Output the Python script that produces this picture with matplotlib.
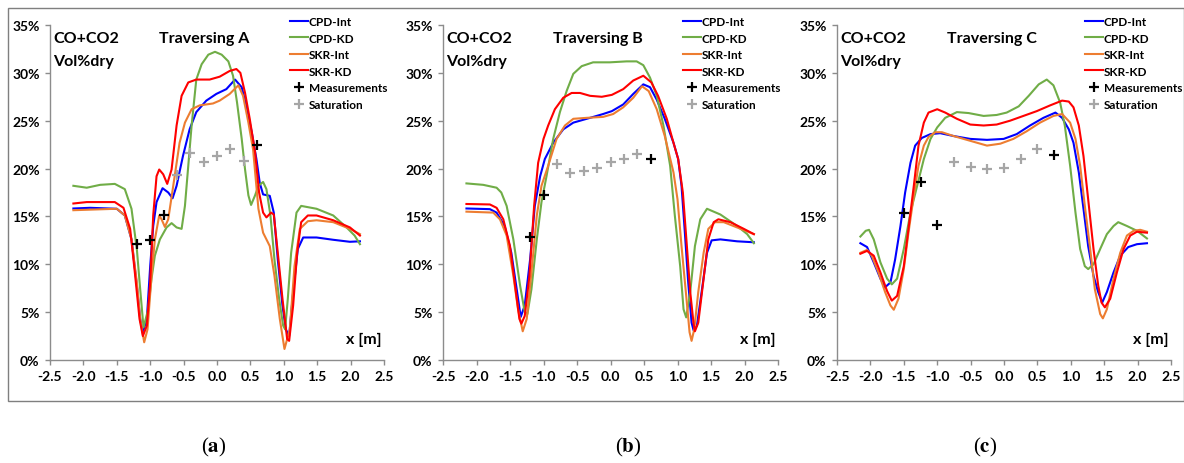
"""Traversing A/B/C profiles of CO+CO2 (vol% dry): model variants vs. measurements."""

import matplotlib

matplotlib.use("Agg")
import matplotlib.pyplot as plt
from matplotlib.patches import Rectangle
from matplotlib.ticker import FuncFormatter, MultipleLocator

plt.rcParams["font.family"] = ["Lato", "DejaVu Sans"]
plt.rcParams["font.weight"] = "bold"
plt.rcParams["mathtext.fontset"] = "stix"

# ---------------- data ----------------
# panel A
a_cpd_int_x = [-2.15, -1.9, -1.5, -1.38, -1.28, -1.2, -1.15, -1.11, -1.05, -1.0, -0.955, -0.905, -0.815, -0.73,
               -0.665, -0.605, -0.51, -0.41, -0.31, -0.16, -0.01, 0.14, 0.27, 0.37, 0.44, 0.52, 0.59, 0.64, 0.69,
               0.79, 0.85, 0.91, 0.98, 1.03, 1.08, 1.14, 1.21, 1.29, 1.49, 1.74, 1.99, 2.14]
a_cpd_int_y = [15.83, 15.9, 15.8, 15.1, 12.6, 7.8, 4.3, 2.9, 4.3, 9.8, 14.0, 16.5, 17.95, 17.5,
               16.9, 18.2, 21.3, 24.1, 25.9, 27.1, 27.8, 28.3, 29.3, 28.5, 26.5, 23.8, 21.0, 18.5, 17.3,
               17.15, 15.4, 10.5, 5.7, 3.2, 2.5, 7.1, 11.6, 12.8, 12.8, 12.56, 12.35, 12.4]
a_cpd_kd_x = [-2.15, -1.95, -1.75, -1.53, -1.38, -1.28, -1.2, -1.15, -1.1, -1.03, -0.98, -0.93, -0.855, -0.755,
              -0.68, -0.605, -0.53, -0.48, -0.43, -0.38, -0.31, -0.23, -0.13, -0.03, 0.07, 0.17, 0.24, 0.30,
              0.37, 0.42, 0.47, 0.51, 0.57, 0.62, 0.69, 0.74, 0.80, 0.86, 0.93, 0.99, 1.02, 1.06, 1.11, 1.19,
              1.26, 1.49, 1.74, 1.94, 2.06, 2.14]
a_cpd_kd_y = [18.2, 18.0, 18.3, 18.4, 17.85, 15.8, 11.6, 7.4, 3.4, 5.3, 8.5, 10.9, 12.6, 13.85,
              14.3, 13.85, 13.7, 16.1, 20.3, 24.5, 29.3, 30.9, 31.9, 32.2, 31.9, 31.2, 29.7, 26.9,
              23.1, 19.9, 17.2, 16.2, 17.2, 18.2, 18.6, 17.85, 15.1, 10.5, 6.4, 3.6, 3.2, 6.4, 11.2, 15.4,
              16.1, 15.8, 15.1, 13.85, 13.0, 12.1]
a_skr_int_x = [-2.15, -1.5, -1.38, -1.28, -1.2, -1.15, -1.09, -1.04, -0.98, -0.93, -0.865, -0.83, -0.78, -0.73,
               -0.655, -0.56, -0.48, -0.38, -0.26, -0.06, 0.04, 0.19, 0.32, 0.39, 0.47, 0.54, 0.62, 0.69, 0.79,
               0.86, 0.94, 1.01, 1.09, 1.16, 1.24, 1.36, 1.49, 1.74, 1.99, 2.14]
a_skr_int_y = [15.65, 15.8, 15.1, 12.6, 8.1, 4.3, 1.85, 3.2, 8.8, 12.6, 15.1, 14.7, 13.9, 14.7,
               18.2, 22.7, 24.8, 26.2, 26.6, 26.8, 27.1, 27.8, 28.7, 27.6, 24.8, 22.0, 15.8, 13.3, 11.9,
               8.8, 4.3, 1.15, 3.2, 9.8, 13.7, 14.5, 14.6, 14.4, 13.7, 13.15]
a_skr_kd_x = [-2.15, -1.95, -1.53, -1.4, -1.3, -1.23, -1.16, -1.11, -1.05, -1.0, -0.955, -0.905, -0.865, -0.805,
              -0.745, -0.68, -0.605, -0.53, -0.43, -0.31, -0.11, 0.04, 0.19, 0.29, 0.35, 0.42, 0.49, 0.57, 0.63,
              0.69, 0.74, 0.81, 0.85, 0.91, 0.98, 1.05, 1.08, 1.14, 1.20, 1.26, 1.36, 1.49, 1.74, 1.99, 2.14]
a_skr_kd_y = [16.35, 16.5, 16.5, 15.9, 13.7, 9.15, 4.3, 2.5, 3.6, 8.1, 15.1, 19.2, 19.9, 19.4,
              18.4, 19.9, 24.5, 27.6, 29.0, 29.3, 29.3, 29.6, 30.2, 30.4, 30.0, 27.9, 25.2, 21.7, 17.5,
              15.4, 14.9, 15.4, 15.2, 11.2, 6.4, 2.2, 2.0, 5.7, 11.2, 14.4, 15.1, 15.1, 14.6, 13.85, 13.0]
a_meas_x = [-1.2, -1.0, -0.8, 0.6]
a_meas_y = [12.1, 12.5, 15.2, 22.5]
a_sat_x = [-0.6, -0.4, -0.2, 0.0, 0.2, 0.4]
a_sat_y = [19.35, 21.6, 20.7, 21.3, 22.0, 20.8]

# panel B
b_cpd_int_x = [-2.15, -1.8, -1.7, -1.58, -1.48, -1.4, -1.34, -1.28, -1.2, -1.13, -1.05, -0.98, -0.855, -0.705,
               -0.555, -0.305, -0.11, 0.02, 0.19, 0.34, 0.49, 0.59, 0.69, 0.81, 0.94, 1.01, 1.06, 1.11, 1.16,
               1.21, 1.24, 1.29, 1.36, 1.44, 1.51, 1.64, 1.89, 2.14]
b_cpd_int_y = [15.83, 15.76, 15.4, 14.0, 11.2, 7.4, 4.5, 5.7, 10.5, 16.1, 19.2, 21.0, 22.7, 24.1,
               24.8, 25.3, 25.7, 26.0, 26.7, 27.8, 28.8, 28.5, 27.2, 25.2, 22.7, 21.0, 18.2, 13.3, 8.1,
               3.9, 3.1, 3.6, 7.1, 11.2, 12.5, 12.6, 12.4, 12.3]
b_cpd_kd_x = [-2.15, -1.9, -1.7, -1.63, -1.55, -1.45, -1.35, -1.28, -1.24, -1.18, -1.1, -1.03, -0.955, -0.855,
              -0.755, -0.655, -0.555, -0.43, -0.26, -0.01, 0.24, 0.39, 0.49, 0.59, 0.69, 0.79, 0.89, 0.96,
              1.04, 1.09, 1.13, 1.19, 1.26, 1.34, 1.44, 1.64, 1.89, 2.04, 2.14]
b_cpd_kd_y = [18.45, 18.3, 18.0, 17.5, 16.1, 12.6, 7.8, 5.0, 4.8, 7.4, 12.6, 16.5, 19.2, 23.1,
              25.9, 28.1, 29.9, 30.7, 31.1, 31.1, 31.2, 31.2, 30.8, 29.5, 27.6, 24.5, 20.3, 15.1,
              9.8, 5.3, 4.45, 7.1, 11.9, 14.7, 15.8, 15.2, 14.0, 13.15, 12.2]
b_skr_int_x = [-2.15, -1.75, -1.65, -1.55, -1.45, -1.38, -1.31, -1.25, -1.18, -1.1, -1.03, -0.93, -0.805, -0.68,
               -0.555, -0.355, -0.11, 0.04, 0.19, 0.34, 0.47, 0.57, 0.69, 0.81, 0.94, 1.0, 1.06, 1.13, 1.18,
               1.21, 1.25, 1.31, 1.39, 1.46, 1.56, 1.69, 1.89, 2.14]
b_skr_int_y = [15.5, 15.4, 14.7, 13.0, 8.8, 5.3, 3.0, 4.3, 9.15, 15.1, 18.2, 20.3, 23.1, 24.5,
               25.2, 25.3, 25.4, 25.7, 26.4, 27.4, 28.6, 28.1, 26.2, 23.4, 19.6, 16.8, 11.9, 6.7, 2.9,
               2.0, 3.2, 7.1, 11.2, 13.7, 14.4, 14.4, 13.85, 13.15]
b_skr_kd_x = [-2.15, -1.8, -1.7, -1.6, -1.5, -1.43, -1.36, -1.33, -1.28, -1.21, -1.14, -1.08, -1.0, -0.93,
              -0.83, -0.705, -0.58, -0.455, -0.305, -0.13, 0.02, 0.19, 0.34, 0.49, 0.61, 0.71, 0.84, 0.94,
              1.01, 1.08, 1.14, 1.19, 1.24, 1.26, 1.31, 1.39, 1.46, 1.54, 1.61, 1.79, 1.99, 2.14]
b_skr_kd_y = [16.3, 16.25, 15.9, 14.7, 11.9, 8.1, 4.3, 3.8, 4.6, 8.8, 16.1, 20.6, 23.1, 24.5,
              26.2, 27.4, 27.9, 27.9, 27.6, 27.5, 27.7, 28.3, 29.2, 29.7, 29.0, 27.6, 25.2, 22.7,
              21.0, 17.5, 11.9, 7.1, 3.8, 3.0, 3.9, 8.5, 12.6, 14.4, 14.7, 14.4, 13.7, 13.15]
b_meas_x = [-1.2, -1.0, 0.6]
b_meas_y = [12.9, 17.2, 21.05]
b_sat_x = [-0.8, -0.6, -0.4, -0.2, 0.0, 0.2, 0.4]
b_sat_y = [20.5, 19.5, 19.7, 20.1, 20.7, 21.0, 21.5]

# panel C
c_cpd_int_x = [-2.15, -2.05, -1.95, -1.85, -1.78, -1.70, -1.63, -1.55, -1.48, -1.40, -1.33, -1.23, -1.10, -0.955,
               -0.755, -0.505, -0.255, -0.005, 0.19, 0.39, 0.59, 0.77, 0.87, 0.97, 1.04, 1.12, 1.19, 1.26,
               1.34, 1.41, 1.47, 1.54, 1.64, 1.74, 1.86, 1.99, 2.14]
c_cpd_int_y = [12.2, 11.8, 10.2, 8.5, 7.6, 8.1, 10.5, 14.0, 17.5, 20.6, 22.4, 23.2, 23.6, 23.7,
               23.4, 23.1, 23.0, 23.1, 23.6, 24.5, 25.3, 25.85, 25.3, 24.1, 22.7, 19.6, 15.8, 11.9,
               8.8, 7.1, 6.0, 7.1, 9.15, 10.9, 11.8, 12.1, 12.2]
c_cpd_kd_x = [-2.15, -2.07, -2.02, -1.95, -1.85, -1.75, -1.68, -1.6, -1.5, -1.40, -1.30, -1.20, -1.10, -1.0,
              -0.88, -0.705, -0.53, -0.305, -0.11, 0.04, 0.22, 0.37, 0.52, 0.64, 0.74, 0.84, 0.91, 0.99,
              1.07, 1.14, 1.21, 1.26, 1.34, 1.44, 1.54, 1.64, 1.71, 1.84, 1.99, 2.14]
c_cpd_kd_y = [12.9, 13.5, 13.6, 12.6, 10.2, 8.5, 7.9, 8.5, 11.6, 15.4, 18.2, 21.0, 23.1, 24.3,
              25.3, 25.9, 25.8, 25.5, 25.6, 25.85, 26.5, 27.6, 28.8, 29.3, 28.7, 26.9, 24.5, 20.3,
              15.4, 11.6, 9.8, 9.5, 10.0, 11.6, 13.15, 14.0, 14.4, 14.0, 13.5, 12.7]
c_skr_int_x = [-2.15, -2.05, -1.98, -1.88, -1.78, -1.70, -1.65, -1.58, -1.5, -1.43, -1.35, -1.28, -1.2, -1.13,
               -1.03, -0.93, -0.755, -0.505, -0.255, -0.055, 0.14, 0.34, 0.54, 0.74, 0.87, 0.99, 1.07, 1.14,
               1.21, 1.29, 1.36, 1.44, 1.48, 1.54, 1.64, 1.74, 1.84, 1.94, 2.04, 2.14]
c_skr_int_y = [11.2, 11.5, 10.9, 9.15, 7.1, 5.7, 5.25, 6.4, 9.5, 13.3, 17.2, 20.3, 22.4, 23.3,
               23.8, 23.8, 23.4, 22.9, 22.4, 22.6, 23.1, 23.9, 24.8, 25.5, 25.7, 24.8, 23.1, 20.3,
               16.1, 11.6, 7.4, 4.8, 4.35, 5.3, 8.5, 11.2, 13.0, 13.5, 13.6, 13.4]
c_skr_kd_x = [-2.15, -2.05, -1.95, -1.85, -1.75, -1.68, -1.6, -1.5, -1.43, -1.35, -1.28, -1.2, -1.13, -1.0,
              -0.88, -0.705, -0.505, -0.305, -0.11, 0.09, 0.29, 0.49, 0.69, 0.87, 0.97, 1.04, 1.12, 1.19,
              1.26, 1.34, 1.41, 1.46, 1.51, 1.59, 1.69, 1.79, 1.89, 1.99, 2.14]
c_skr_kd_y = [11.1, 11.4, 10.9, 9.15, 7.2, 6.2, 6.7, 9.8, 13.7, 18.2, 22.4, 24.8, 25.85, 26.2,
              25.85, 25.2, 24.6, 24.5, 24.6, 25.0, 25.5, 26.0, 26.6, 27.1, 27.0, 26.4, 24.5, 21.3,
              16.8, 11.6, 7.8, 6.0, 5.5, 6.4, 9.15, 11.6, 13.0, 13.4, 13.3]
c_meas_x = [-1.5, -1.25, -1.0, 0.75]
c_meas_y = [15.4, 18.55, 14.1, 21.4]
c_sat_x = [-0.75, -0.5, -0.25, 0.0, 0.25, 0.5]
c_sat_y = [20.7, 20.2, 20.0, 20.1, 21.0, 22.0]

panel_names = ["A", "B", "C"]
panel_letters = ["a", "b", "c"]
series_labels = ["CPD-Int", "CPD-KD", "SKR-Int", "SKR-KD"]
series_colors = ["#0000FF", "#70AD47", "#ED7D31", "#FF0000"]

panels = [
    dict(lines=[(a_cpd_int_x, a_cpd_int_y), (a_cpd_kd_x, a_cpd_kd_y),
                (a_skr_int_x, a_skr_int_y), (a_skr_kd_x, a_skr_kd_y)],
         meas=(a_meas_x, a_meas_y), sat=(a_sat_x, a_sat_y)),
    dict(lines=[(b_cpd_int_x, b_cpd_int_y), (b_cpd_kd_x, b_cpd_kd_y),
                (b_skr_int_x, b_skr_int_y), (b_skr_kd_x, b_skr_kd_y)],
         meas=(b_meas_x, b_meas_y), sat=(b_sat_x, b_sat_y)),
    dict(lines=[(c_cpd_int_x, c_cpd_int_y), (c_cpd_kd_x, c_cpd_kd_y),
                (c_skr_int_x, c_skr_int_y), (c_skr_kd_x, c_skr_kd_y)],
         meas=(c_meas_x, c_meas_y), sat=(c_sat_x, c_sat_y)),
]

# layout (figure pixels, 1184 x 464)
W, H = 1184, 464
axes_left_px = [50, 443, 837]
axes_width_px = [334, 335, 334]
axes_top_px, axes_bottom_px = 26, 361
legend_x_frac = [0.718, 0.716, 0.742]
caption_x_px = [214, 628, 985]

spine_gray = "#8C8C8C"

fig = plt.figure(figsize=(W / 100, H / 100), dpi=100)

# outer frame around the three charts
fig.patches.append(Rectangle((8 / W, 1 - 402 / H), (W - 8) / W, (402 - 9) / H,
                             transform=fig.transFigure, fill=False,
                             edgecolor="#7F7F7F", lw=1.0))

for i, p in enumerate(panels):
    ax = fig.add_axes([axes_left_px[i] / W, 1 - axes_bottom_px / H,
                       axes_width_px[i] / W, (axes_bottom_px - axes_top_px) / H])
    for (xs, ys), lab, col in zip(p["lines"], series_labels, series_colors):
        ax.plot(xs, ys, color=col, lw=1.5, label=lab, solid_joinstyle="round")
    mx, my = p["meas"]
    ax.plot(mx, my, ls="none", marker="+", ms=7, mew=1.6, color="black", label="Measurements")
    sx, sy = p["sat"]
    ax.plot(sx, sy, ls="none", marker="+", ms=7, mew=1.6, color="#A6A6A6", label="Saturation")

    ax.set_xlim(-2.5, 2.5)
    ax.set_ylim(0, 35)
    ax.xaxis.set_major_locator(MultipleLocator(0.5))
    ax.yaxis.set_major_locator(MultipleLocator(5))
    ax.xaxis.set_major_formatter(FuncFormatter(lambda v, _: f"{v:.1f}"))
    ax.yaxis.set_major_formatter(FuncFormatter(lambda v, _: f"{v:.0f}%"))
    for side in ("top", "right"):
        ax.spines[side].set_visible(False)
    for side in ("left", "bottom"):
        ax.spines[side].set_color(spine_gray)
        ax.spines[side].set_linewidth(1.0)
    ax.tick_params(length=3.5, width=1.0, color=spine_gray, labelsize=10, pad=4)
    ax.patch.set_alpha(0)

    ax.text(0.01, 0.962, "CO+CO2", transform=ax.transAxes, fontsize=11.5,
            va="center", ha="left")
    ax.text(0.01, 0.893, "Vol%dry", transform=ax.transAxes, fontsize=11.5,
            va="center", ha="left")
    ax.text(0.463, 0.962, f"Traversing {panel_names[i]}", transform=ax.transAxes,
            fontsize=11.5, va="center", ha="center")
    ax.text(0.992, 0.063, "x [m]", transform=ax.transAxes, fontsize=11.5,
            va="center", ha="right")

    ax.legend(loc="upper left", bbox_to_anchor=(legend_x_frac[i], 1.027),
              frameon=False, fontsize=8.5, handlelength=1.5, handletextpad=0.1,
              labelspacing=0.47, borderaxespad=0, borderpad=0)

    # caption: plain parentheses around a bold letter
    fig.text(caption_x_px[i] / W, 1 - 447 / H,
             "(" + r"$\mathbf{" + panel_letters[i] + "}$" + ")",
             fontsize=15, fontweight="normal", ha="center", va="center",
             family=["Liberation Serif", "DejaVu Serif"])

fig.savefig("out.png", dpi=100)
